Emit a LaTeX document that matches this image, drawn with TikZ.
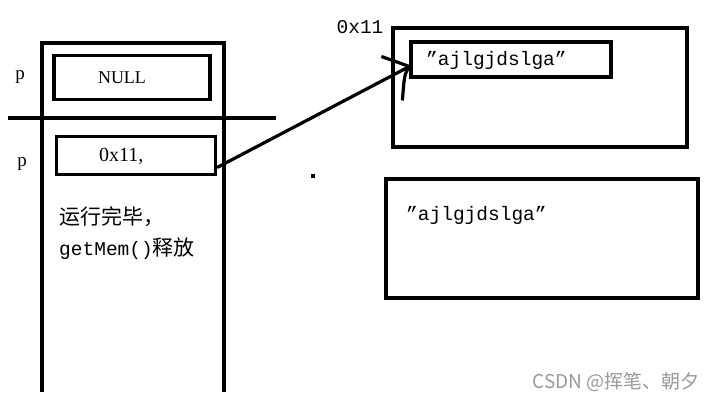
\documentclass[tikz,border=0pt]{standalone}
\usepackage{fontspec}
\setmainfont{Liberation Serif}
\newfontfamily\monof{Liberation Mono}
\newfontfamily\cjk{Noto Sans CJK SC}
\begin{document}
\begin{tikzpicture}[x=1pt,y=-1pt,
  thickline/.style={line width=3.2pt},
  box/.style={draw,line width=3.2pt,inner sep=0pt},
  lbl/.style={inner sep=0pt,anchor=west},
  monotxt/.style={font=\monof\fontsize{19.5}{22}\selectfont},
  cjktxt/.style={font=\cjk\fontsize{21}{24}\selectfont}]
\useasboundingbox[fill=white] (0,0) rectangle (717,401);
% left frame
\coordinate (fbl) at (42,392);
\coordinate (ftl) at (42,43);
\coordinate (ftr) at (224,43);
\coordinate (fbr) at (224,392);
\draw[thickline] (fbl) -- (ftl) -- (ftr) -- (fbr);
\coordinate (hl) at (8,118);
\coordinate (hr) at (276,118);
\draw[thickline] (hl) -- (hr);
% boxes in the frame
\node[box,minimum width=156pt,minimum height=44pt] (v1) at (132,77.5) {};
\node[inner sep=0pt,font=\fontsize{18}{20}\selectfont] (v1t) at (122,78) {NULL};
\node[box,minimum width=159pt,minimum height=38pt] (v2) at (136,155.5) {};
\node[inner sep=0pt,anchor=west,font=\fontsize{20}{22}\selectfont] (v2t) at (99,156) {0x11,};
\node[inner sep=0pt,font=\fontsize{19}{21}\selectfont] (p1) at (20,77) {p};
\node[inner sep=0pt,font=\fontsize{19}{21}\selectfont] (p2) at (22,164) {p};
\node[lbl,cjktxt] (t1) at (59,217) {运行完毕，};
\node[lbl,monotxt] (t2) at (59,249) {getMem()\cjk\fontsize{21}{24}\selectfont 释放};
% right top
\node[box,minimum width=294pt,minimum height=119pt] (h1) at (540,87.5) {};
\node[box,minimum width=200pt,minimum height=35pt] (s1) at (511,59.5) {};
\node[lbl,monotxt] (s1t) at (426,60) {”ajlgjdslga”};
\node[inner sep=0pt,monotxt] (addr) at (360,27) {0x11};
% right bottom
\node[box,minimum width=312pt,minimum height=119pt] (h2) at (542,238.5) {};
\node[lbl,monotxt] (s2t) at (406,215) {”ajlgjdslga”};
% arrow
\coordinate (start) at ([yshift=-12pt]v2.east);
\coordinate (tip) at ([yshift=-7pt]s1.west);
\draw[line width=3.2pt] (start) -- (tip);
\draw[line width=3.2pt] (tip) -- ++(-28,-10);
\draw[line width=3.2pt] (tip) .. controls ++(-5,8) .. ++(-7,34);
% dot
\node[fill=black,inner sep=0pt,minimum size=3.5pt] (dot) at (313,176) {};
% watermark
\node[inner sep=0pt,anchor=east,text=black!40,font=\cjk\fontsize{19}{21}\selectfont] (wm) at (700,382) {CSDN @挥笔、朝夕};
\end{tikzpicture}
\end{document}
